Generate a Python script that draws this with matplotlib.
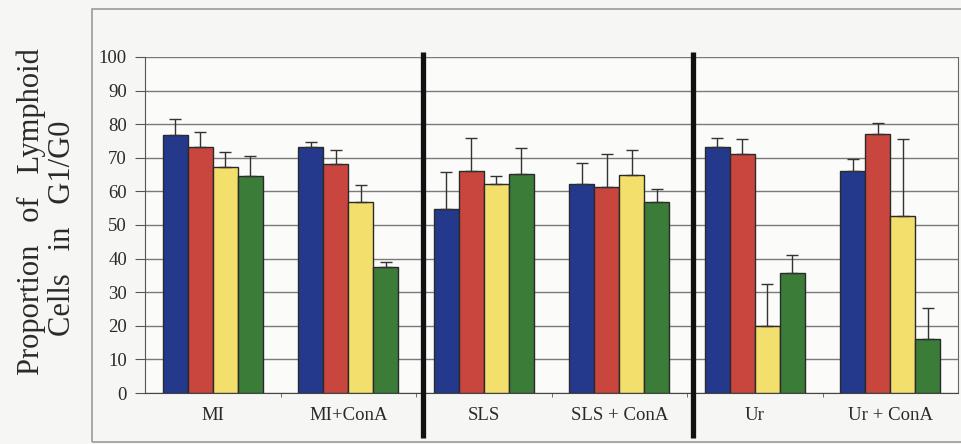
import numpy as np
import matplotlib
matplotlib.use("Agg")
import matplotlib.pyplot as plt
from matplotlib.patches import Rectangle

groups = ["MI", "MI+ConA", "SLS", "SLS + ConA", "Ur", "Ur + ConA"]

# mean and upper error for each of the four series
blue = [76.7, 73.1, 54.8, 62.3, 73.3, 66.0]
blue_err = [4.8, 1.7, 10.9, 6.1, 2.7, 3.6]
red = [73.1, 68.3, 66.2, 61.3, 71.1, 77.1]
red_err = [4.5, 3.9, 9.8, 9.7, 4.4, 3.3]
yellow = [67.2, 56.8, 62.1, 64.9, 19.9, 52.7]
yellow_err = [4.4, 5.2, 2.6, 7.4, 12.5, 23.0]
green = [64.7, 37.4, 65.1, 56.9, 35.6, 16.0]
green_err = [5.8, 1.7, 7.7, 3.8, 5.5, 9.2]

yticks = list(range(0, 101, 10))

def main():
    plt.rcParams['font.family'] = ['Liberation Serif', 'DejaVu Serif']

    fig = plt.figure(figsize=(9.61, 4.44), dpi=100, facecolor="#f6f6f4")
    ax = fig.add_axes([145/961, 1-393/444, 813/961, 336/444])
    ax.set_facecolor("#fbfbfa")

    # outer frame around the whole chart
    fig.patches.append(Rectangle((92/961, 2/444), 0.95, 1-11/444,
                                 transform=fig.transFigure, fill=False,
                                 edgecolor="#9a9a9a", lw=1.2))

    x = np.arange(len(groups))
    w = 0.184
    series = [(blue, blue_err, "#25398c"), (red, red_err, "#c9463f"),
              (yellow, yellow_err, "#f3df6c"), (green, green_err, "#3b7c39")]
    for i, (vals, errs, col) in enumerate(series):
        pos = x + (i - 1.5) * w
        ax.bar(pos, vals, w, color=col, edgecolor="#2a2a2a", lw=1.0, zorder=3)
        ax.errorbar(pos, vals, yerr=[np.zeros(len(vals)), errs], fmt="none",
                    ecolor="#333333", elinewidth=1.0, capsize=4.5,
                    capthick=1.0, zorder=4)

    ax.set_xlim(-0.5, 5.5)
    ax.set_ylim(0, 100)
    ax.set_yticks(yticks)
    ax.set_yticklabels([str(t) for t in yticks], fontsize=13.5, color="#2a2a2a")
    ax.yaxis.grid(True, color="#7a7a7a", lw=1.0, zorder=0)
    ax.set_xticks(x)
    ax.set_xticklabels(groups, fontsize=13.5, color="#2a2a2a")
    ax.tick_params(axis="x", length=0, pad=10)
    ax.set_xticks(np.arange(0.5, 5.5, 1), minor=True)
    ax.tick_params(axis="x", which="minor", length=3, color="#555555")
    ax.tick_params(axis="y", length=7, color="#555555", pad=6)

    ax.spines["top"].set_visible(False)
    ax.spines["left"].set_color("#555555")
    ax.spines["bottom"].set_color("#444444")
    ax.spines["right"].set_color("#666666")

    # thick separators between tissue types
    for sep in [1.552, 3.544]:
        ax.plot([sep, sep], [101.5, -13.5], color="#111111", lw=3.8,
                clip_on=False, zorder=6, solid_capstyle="butt")

    fig.text(31/961, 1-212/444, "Proportion   of   Lymphoid",
             rotation=90, ha="center", va="center", fontsize=22,
             color="#2a2a2a")
    fig.text(62/961, 1-228/444, "Cells   in   G1/G0",
             rotation=90, ha="center", va="center", fontsize=22,
             color="#2a2a2a")

    plt.savefig("out.png", dpi=100, facecolor=fig.get_facecolor())

if __name__ == '__main__':
    main()
